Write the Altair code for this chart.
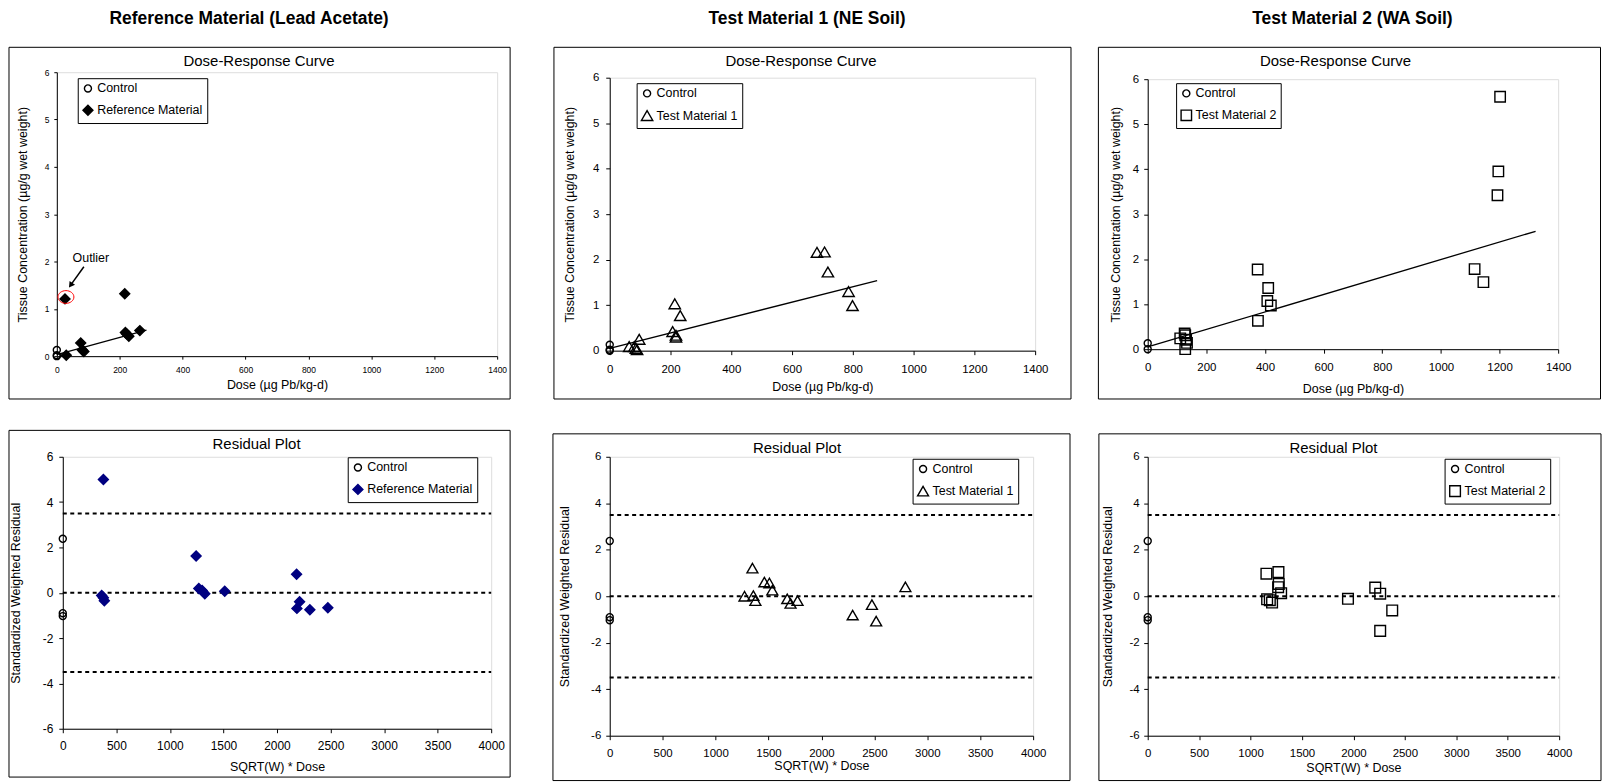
import altair as alt
import pandas as pd

FONT = "Liberation Sans"

# ---------------- data ----------------
headers = ["Reference Material (Lead Acetate)", "Test Material 1 (NE Soil)", "Test Material 2 (WA Soil)"]
materials = ["Reference Material", "Test Material 1", "Test Material 2"]
material_shapes = ["diamond", "triangle-up", "square"]

dose_ticks = [0, 200, 400, 600, 800, 1000, 1200, 1400]
conc_ticks = [0, 1, 2, 3, 4, 5, 6]
sqrtw_ticks = [0, 500, 1000, 1500, 2000, 2500, 3000, 3500, 4000]
resid_ticks = [-6, -4, -2, 0, 2, 4, 6]
limit_lines = [3.5, 0.0, -3.5]

# dose-response: controls
ctrl_dose = [0, 0, 0]
ctrl_conc = [0.13, 0.0, 0.02]
# residuals: controls
ctrl_sw = [0, 0, 0]
ctrl_resid = [2.38, -0.9, -1.03]

# Reference material (lead acetate)
ref_dose = [26, 30, 76, 81, 86, 216, 218, 222, 229, 264]
ref_conc = [1.21, 0.02, 0.28, 0.13, 0.10, 1.32, 0.50, 0.47, 0.42, 0.54]
ref_fit_dose = [0, 285]
ref_fit_conc = [0.03, 0.55]
ref_sw = [379, 363, 379, 388, 1245, 1270, 1301, 1326, 1512, 2183, 2186, 2211, 2307, 2475]
ref_resid = [5.0, -0.12, -0.22, -0.35, 1.62, 0.19, 0.10, -0.04, 0.07, 0.82, -0.69, -0.40, -0.75, -0.66]

# Test material 1 (NE soil)
tm1_dose = [64, 81, 90, 86, 97, 207, 218, 214, 218, 232, 682, 707, 718, 786, 799]
tm1_conc = [0.09, 0.09, 0.02, 0.05, 0.25, 0.42, 0.34, 1.03, 0.30, 0.77, 2.16, 2.17, 1.73, 1.30, 0.99]
tm1_fit_dose = [0, 880]
tm1_fit_conc = [0.05, 1.54]
tm1_sw = [1273, 1348, 1357, 1376, 1461, 1508, 1536, 1677, 1708, 1774, 2295, 2477, 2517, 2793]
tm1_resid = [0.0, 1.21, 0.03, -0.19, 0.61, 0.57, 0.26, -0.11, -0.31, -0.19, -0.81, -0.36, -1.07, 0.40]

# Test material 2 (WA soil)
tm2_dose = [111, 126, 128, 131, 134, 128, 375, 376, 408, 411, 420, 1115, 1145, 1193, 1196, 1202]
tm2_conc = [0.24, 0.35, 0.31, 0.21, 0.14, 0.0, 1.77, 0.63, 1.07, 1.36, 0.97, 1.78, 1.49, 3.42, 3.95, 5.61]
tm2_fit_dose = [0, 1323]
tm2_fit_conc = [0.05, 2.62]
tm2_sw = [1154, 1161, 1187, 1209, 1268, 1271, 1274, 1297, 1947, 2212, 2260, 2260, 2377]
tm2_resid = [0.97, -0.13, -0.17, -0.27, 0.39, 1.04, 0.53, 0.13, -0.11, 0.37, 0.11, -1.49, -0.61]

# outlier annotation (reference material)
outlier_ring = ([29], [1.25])
outlier_label = ([50], [2.07])
outlier_arrow = ([86, 44], [1.89, 1.50])

# ---------------- helpers ----------------
ONE = alt.Data(values=[{"k": 0}])


def frame(x0, x1, y0, y1):
    return alt.Chart(ONE).mark_rect(fill="transparent", stroke="black", strokeWidth=1).encode(
        x=alt.value(x0), x2=alt.value(x1), y=alt.value(y0), y2=alt.value(y1))


def text_at(text, x, y, size, bold=False):
    return alt.Chart(ONE).mark_text(text=text, font=FONT, fontSize=size,
                                    fontWeight="bold" if bold else "normal",
                                    color="black", align="center", baseline="middle").encode(
        x=alt.value(x), y=alt.value(y))


def axis(title, ticks, lab, tick, lpad, tpad):
    return alt.Axis(title=title, values=ticks, labelExpr="'' + datum.value", grid=False,
                    domainColor="black", domainWidth=1, tickColor="black", tickSize=tick,
                    labelFont=FONT, labelFontSize=lab, labelColor="black", labelPadding=lpad,
                    labelFlush=False, labelOverlap=False,
                    titleFont=FONT, titleFontSize=12.5, titleFontWeight="normal",
                    titleColor="black", titlePadding=tpad)


def legend(lx, ly):
    return alt.Legend(title=None, orient="none", legendX=lx, legendY=ly, direction="vertical",
                      strokeColor="black", fillColor="white", padding=4,
                      labelFont=FONT, labelFontSize=12.5, labelColor="black",
                      rowPadding=7, labelOffset=3, symbolStrokeWidth=1.4)


def panel(p):
    xs = alt.Scale(domain=p["xdom"], nice=False, zero=False)
    ys = alt.Scale(domain=p["ydom"], nice=False, zero=False)
    X = alt.X("x:Q", scale=xs, axis=axis(p["xtitle"], p["xticks"], *p["xax"]))
    Y = alt.Y("y:Q", scale=ys, axis=axis(p["ytitle"], p["yticks"], *p["yax"]))
    f = p["frame"]
    layers = [frame(*f), text_at(p["title"], p["title_xy"][0], p["title_xy"][1], 15)]
    if "header" in p:
        layers.append(text_at(p["header"], p["header_xy"][0], p["header_xy"][1], 17.5, bold=True))
    if p["kind"] == "dose":
        fit = pd.DataFrame({"x": p["fit"][0], "y": p["fit"][1]})
        layers.append(alt.Chart(fit).mark_line(color="black", strokeWidth=1.3).encode(x=X, y=Y))
    else:
        lim = pd.DataFrame({"y": limit_lines})
        layers.append(alt.Chart(lim).mark_rule(color="black", strokeWidth=2, strokeDash=[4, 3.5]).encode(
            y=Y, x=alt.value(0), x2=alt.value(p["w"])))
    mat = p["material"]
    dom = ["Control", mat]
    df = pd.DataFrame({
        "x": list(p["ctrl"][0]) + list(p["pts"][0]),
        "y": list(p["ctrl"][1]) + list(p["pts"][1]),
        "series": ["Control"] * len(p["ctrl"][0]) + [mat] * len(p["pts"][0]),
    })
    leg = legend(*p["legend"])
    layers.append(alt.Chart(df).mark_point(opacity=1, strokeWidth=1.4).encode(
        x=X, y=Y,
        shape=alt.Shape("series:N", scale=alt.Scale(domain=dom, range=["circle", p["shape"]]), legend=leg),
        fill=alt.Fill("series:N", scale=alt.Scale(domain=dom, range=["transparent", p["mfill"]]), legend=leg),
        stroke=alt.Stroke("series:N", scale=alt.Scale(domain=dom, range=["black", p["mstroke"]]), legend=leg),
        size=alt.Size("series:N", scale=alt.Scale(domain=dom, range=[50, p["msize"]]), legend=leg),
    ))
    if p.get("outlier"):
        ring = pd.DataFrame({"x": outlier_ring[0], "y": outlier_ring[1]})
        layers.append(alt.Chart(ring).mark_point(
            shape="M-1,0 A1,0.8 0 1,0 1,0 A1,0.8 0 1,0 -1,0 Z", size=256, color="red",
            strokeWidth=1, opacity=1).encode(x=X, y=Y))
        lab = pd.DataFrame({"x": outlier_label[0], "y": outlier_label[1], "t": ["Outlier"]})
        layers.append(alt.Chart(lab).mark_text(font=FONT, fontSize=12.5, align="left",
                                               baseline="middle", color="black").encode(
            x=X, y=Y, text="t:N"))
        arr = pd.DataFrame({"x": outlier_arrow[0], "y": outlier_arrow[1], "o": [0, 1]})
        layers.append(alt.Chart(arr).mark_line(color="black", strokeWidth=1.5).encode(
            x=X, y=Y, order="o:Q"))
        head = arr.iloc[[1]]
        layers.append(alt.Chart(head).mark_point(shape="triangle-up", angle=215, size=45,
                                                 filled=True, color="black", opacity=1).encode(x=X, y=Y))
    return alt.layer(*layers).properties(width=p["w"], height=p["h"])


dose_title = "Dose (µg Pb/kg-d)"
conc_title = "Tissue Concentration (µg/g wet weight)"
sw_title = "SQRT(W) * Dose"
res_title = "Standardized Weighted Residual"

top_common = dict(kind="dose", xdom=[0, 1400], ydom=[0, 6], xticks=dose_ticks, yticks=conc_ticks,
                  xtitle=dose_title, ytitle=conc_title, title="Dose-Response Curve")
bot_common = dict(kind="resid", xdom=[0, 4000], ydom=[-6, 6], xticks=sqrtw_ticks, yticks=resid_ticks,
                  xtitle=sw_title, ytitle=res_title, title="Residual Plot",
                  ctrl=(ctrl_sw, ctrl_resid))

specs = [
    dict(top_common, w=442, h=285, frame=(-48, 455, -25, 328), title_xy=(203, -11),
         header=headers[0], header_xy=(193, -53.5), legend=(21, 6),
         xax=(8.5, 3, 6, 5), yax=(8.5, 3, 5, 15),
         fit=(ref_fit_dose, ref_fit_conc), material=materials[0], shape=material_shapes[0],
         mfill="black", mstroke="black", msize=100, ctrl=(ctrl_dose, ctrl_conc),
         pts=(ref_dose, ref_conc), outlier=True),
    dict(top_common, w=427, h=274, frame=(-56, 463, -30.5, 322.5), title_xy=(192, -16.5),
         header=headers[1], header_xy=(198, -59), legend=(27, 5.5),
         xax=(11.5, 4, 8.5, 6), yax=(11.5, 4, 7, 16),
         fit=(tm1_fit_dose, tm1_fit_conc), material=materials[1], shape=material_shapes[1],
         mfill="transparent", mstroke="black", msize=130, ctrl=(ctrl_dose, ctrl_conc),
         pts=(tm1_dose, tm1_conc)),
    dict(top_common, w=412, h=271, frame=(-49.5, 454.5, -32, 321), title_xy=(188.5, -18),
         header=headers[2], header_xy=(205.5, -60.5), legend=(28.5, 4),
         xax=(11.5, 4, 8.5, 9), yax=(11.5, 4, 5, 10),
         fit=(tm2_fit_dose, tm2_fit_conc), material=materials[2], shape=material_shapes[2],
         mfill="transparent", mstroke="black", msize=110, ctrl=(ctrl_dose[:2], ctrl_conc[:2]),
         pts=(tm2_dose, tm2_conc)),
    dict(bot_common, w=430, h=273, frame=(-54, 449, -26.5, 321.5), title_xy=(194.5, -13),
         legend=(286, 0.5), xax=(12, 4, 8, 9), yax=(12, 4, 6, 20),
         material=materials[0], shape=material_shapes[0],
         mfill="#000080", mstroke="#000080", msize=100, pts=(ref_sw, ref_resid)),
    dict(bot_common, w=425, h=280, frame=(-57, 462, -23, 325), title_xy=(188, -9),
         legend=(304, 2), xax=(11.5, 4, 8, 0), yax=(11.5, 4, 5, 19),
         material=materials[1], shape=material_shapes[1],
         mfill="transparent", mstroke="black", msize=120, pts=(tm1_sw, tm1_resid)),
    dict(bot_common, w=413, h=280, frame=(-49, 455, -23, 325), title_xy=(186.5, -9),
         legend=(298, 2), xax=(11.5, 4, 8, 2), yax=(11.5, 4, 4.6, 15),
         material=materials[2], shape=material_shapes[2],
         mfill="transparent", mstroke="black", msize=115, pts=(tm2_sw, tm2_resid)),
]

panels = [panel(s) for s in specs]

chart = alt.concat(
    *panels, columns=3,
    spacing=alt.RowColnumber(row=101, column=113),
    bounds="flush", align="each", center=True,
).resolve_scale(
    x="independent", y="independent", shape="independent", fill="independent",
    stroke="independent", size="independent",
).properties(
    padding={"left": 0, "top": 0, "right": 0, "bottom": 0},
).configure_view(
    stroke="#999999", strokeWidth=1.5,
).configure(font=FONT)

chart.save("out.html", embed_options={"renderer": "svg", "actions": False})
